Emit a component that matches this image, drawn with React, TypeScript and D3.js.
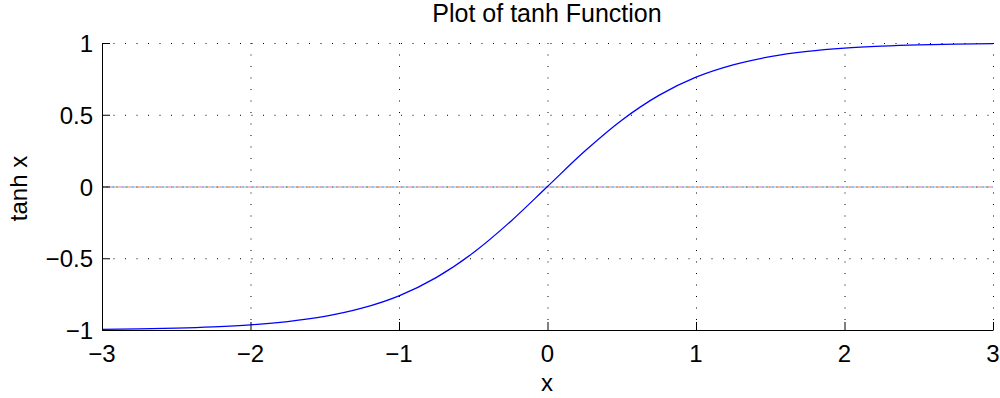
import { useEffect, useRef } from 'react';
import * as d3 from 'd3';

// sample points
const xs = [-3, -2.75, -2.5, -2.25, -2, -1.75, -1.5, -1.25, -1, -0.75, -0.5, -0.25, 0, 0.25, 0.5, 0.75, 1, 1.25, 1.5, 1.75, 2, 2.25, 2.5, 2.75, 3];
const ys = [-0.995, -0.992, -0.987, -0.978, -0.964, -0.941, -0.905, -0.848, -0.762, -0.635, -0.462, -0.245, 0, 0.245, 0.462, 0.635, 0.762, 0.848, 0.905, 0.941, 0.964, 0.978, 0.987, 0.992, 0.995];

const xTicks = [-3, -2, -1, 0, 1, 2, 3];
const yTicks = [-1, -0.5, 0, 0.5, 1];
const zeroLineColors = ['#7fa8ee', '#f09ac8', '#f5b878', '#9a9a9a', '#a8dcf0'];

export default function App() {
  const svgRef = useRef<SVGSVGElement>(null);

  useEffect(() => {
    if (!svgRef.current) return;
    const svg = d3.select(svgRef.current);
    svg.selectAll('*').remove();

    const x = d3.scaleLinear().domain([-3, 3]).range([102, 993]);
    const y = d3.scaleLinear().domain([-1, 1]).range([330, 43]);
    const font = 'Liberation Sans, Arial, sans-serif';
    const fs = 24;
    const fmt = (v: number) => String(v).replace('-', '\u2212');

    // dotted grid
    const grid = svg.append('g').attr('stroke', '#000').attr('stroke-width', 1).attr('stroke-dasharray', '1,10.5');
    grid.selectAll('.gx').data(xTicks).enter().append('line')
      .attr('x1', (d) => x(d) + 0.5).attr('x2', (d) => x(d) + 0.5)
      .attr('y1', y(1)).attr('y2', y(-1));
    grid.selectAll('.gy').data(yTicks).enter().append('line')
      .attr('y1', (d) => y(d) + 0.5).attr('y2', (d) => y(d) + 0.5)
      .attr('x1', x(-3)).attr('x2', x(3));

    // multicolored zero line
    zeroLineColors.forEach((c, i) => {
      svg.append('line')
        .attr('x1', x(-3)).attr('x2', x(3))
        .attr('y1', y(0) + 0.5).attr('y2', y(0) + 0.5)
        .attr('stroke', c).attr('stroke-width', 1.5)
        .attr('stroke-dasharray', '2,8')
        .attr('stroke-dashoffset', i * 2);
    });

    // curve
    const line = d3.line<number>()
      .x((_, i) => x(xs[i]))
      .y((d) => y(d))
      .curve(d3.curveMonotoneX);
    svg.append('path')
      .attr('d', line(ys))
      .attr('fill', 'none')
      .attr('stroke', '#0000ff')
      .attr('stroke-width', 1.3);

    // axis lines (left + bottom only)
    svg.append('line').attr('x1', x(-3) + 0.5).attr('x2', x(-3) + 0.5).attr('y1', y(1)).attr('y2', y(-1) + 0.5)
      .attr('stroke', '#000').attr('stroke-width', 1);
    svg.append('line').attr('x1', x(-3)).attr('x2', x(3) + 0.5).attr('y1', y(-1) + 0.5).attr('y2', y(-1) + 0.5)
      .attr('stroke', '#000').attr('stroke-width', 1);

    // ticks (inward)
    svg.selectAll('.tx').data(xTicks).enter().append('line')
      .attr('x1', (d) => x(d) + 0.5).attr('x2', (d) => x(d) + 0.5)
      .attr('y1', y(-1)).attr('y2', y(-1) - 8)
      .attr('stroke', '#000');
    svg.selectAll('.ty').data(yTicks).enter().append('line')
      .attr('y1', (d) => y(d) + 0.5).attr('y2', (d) => y(d) + 0.5)
      .attr('x1', x(-3)).attr('x2', x(-3) + 8)
      .attr('stroke', '#000');

    // tick labels
    svg.selectAll('.lx').data(xTicks).enter().append('text')
      .attr('x', (d) => x(d)).attr('y', 362)
      .attr('text-anchor', 'middle')
      .attr('font-family', font).attr('font-size', fs)
      .text((d) => fmt(d));
    svg.selectAll('.ly').data(yTicks).enter().append('text')
      .attr('x', 93).attr('y', (d) => y(d) + 9)
      .attr('text-anchor', 'end')
      .attr('font-family', font).attr('font-size', fs)
      .text((d) => fmt(d));

    // labels
    svg.append('text').attr('x', 547).attr('y', 22).attr('text-anchor', 'middle')
      .attr('font-family', font).attr('font-size', 25).text('Plot of tanh Function');
    svg.append('text').attr('x', 547).attr('y', 391).attr('text-anchor', 'middle')
      .attr('font-family', font).attr('font-size', fs).text('x');
    svg.append('text').attr('transform', `translate(27,${y(0) + 2}) rotate(-90)`).attr('text-anchor', 'middle')
      .attr('font-family', font).attr('font-size', fs).text('tanh x');
  }, []);

  return (
    <svg ref={svgRef} width={1000} height={398}
      style={{ position: 'absolute', left: 0, top: 0, background: '#fff' }} />
  );
}
